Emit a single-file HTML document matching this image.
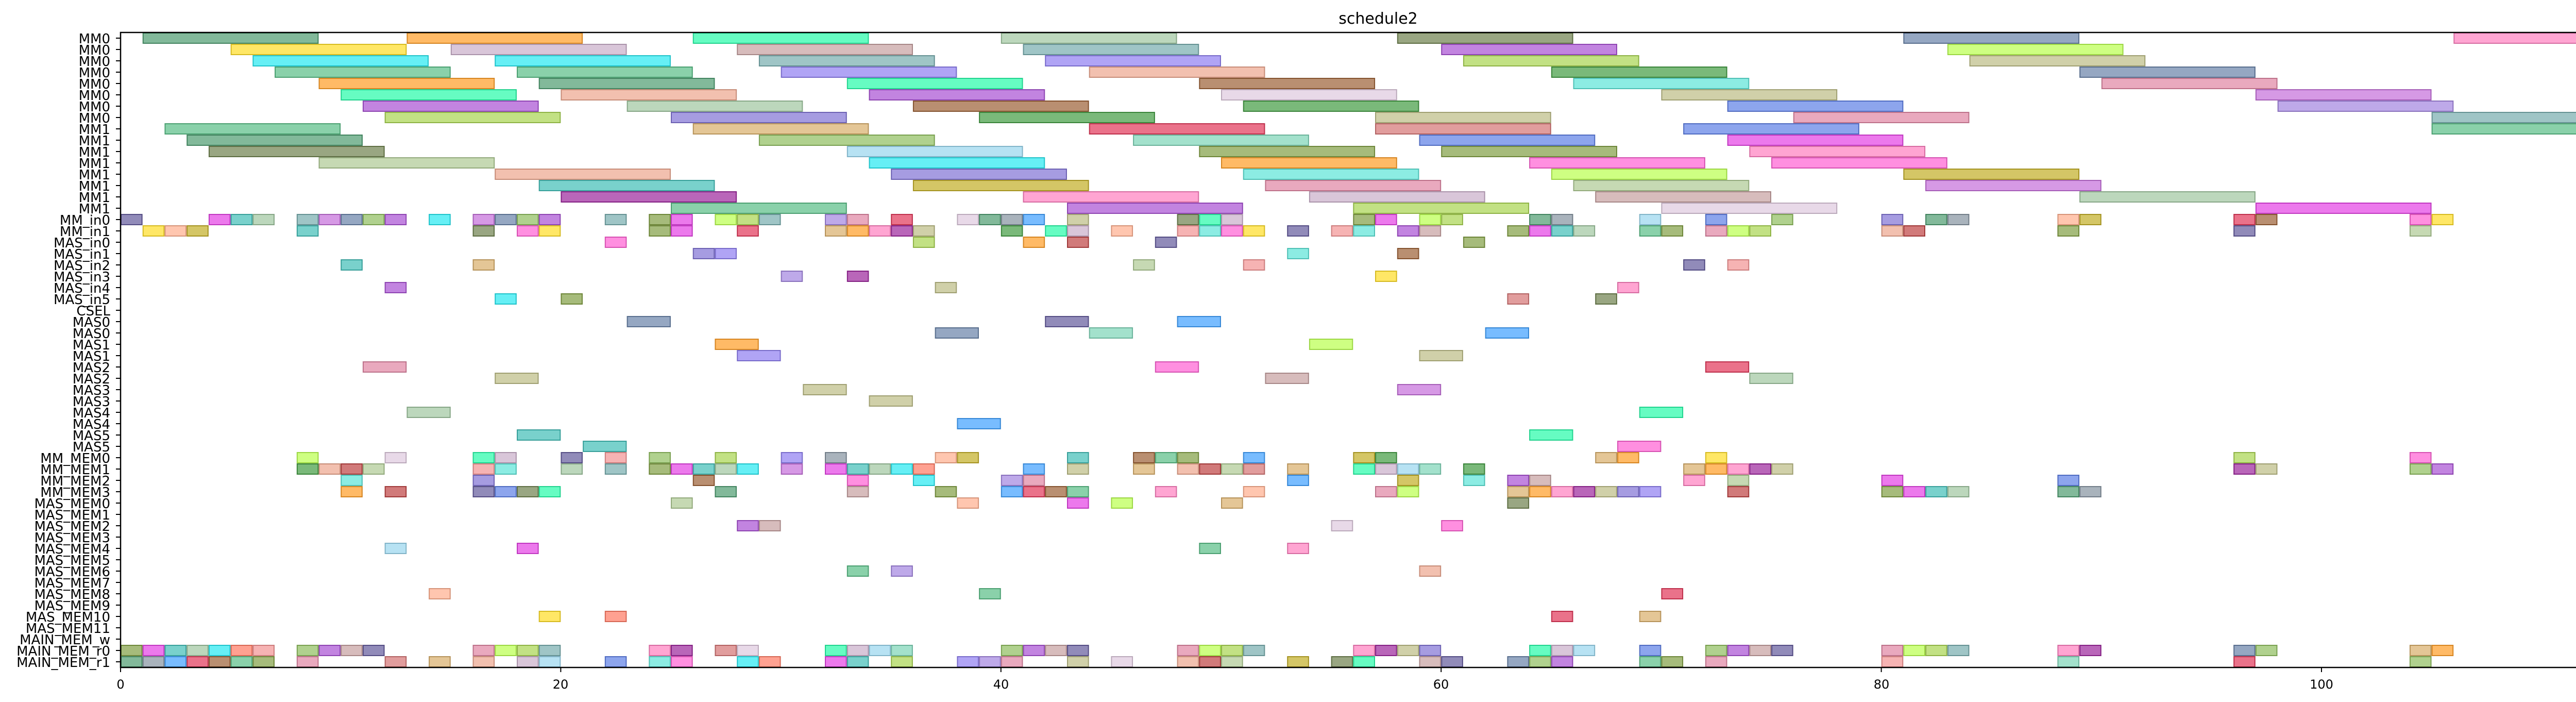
<!DOCTYPE html>
<html><head><meta charset="utf-8"><style>
html,body{margin:0;padding:0;background:#fff;}
svg{display:block;}
text{font-family:"DejaVu Sans","Liberation Sans",sans-serif;fill:#000;}
</style></head><body>
<svg id="s" width="5136" height="1362" xmlns="http://www.w3.org/2000/svg">
<rect width="5136" height="1362" fill="#fff"/>
<g id="bars"></g>
<rect x="234" y="63" width="4884" height="1232" fill="none" stroke="#000" stroke-width="2.5"/>
<text x="2675" y="46" font-size="30" text-anchor="middle">schedule2</text>
<g id="yl" font-size="26" text-anchor="end">
<text x="214" y="84">MM0</text><text x="214" y="106">MM0</text><text x="214" y="128">MM0</text><text x="214" y="150">MM0</text><text x="214" y="172">MM0</text><text x="214" y="194">MM0</text><text x="214" y="216">MM0</text><text x="214" y="238">MM0</text>
<text x="214" y="260">MM1</text><text x="214" y="282">MM1</text><text x="214" y="304">MM1</text><text x="214" y="326">MM1</text><text x="214" y="348">MM1</text><text x="214" y="370">MM1</text><text x="214" y="392">MM1</text><text x="214" y="414">MM1</text>
<text x="214" y="436">MM_in0</text><text x="214" y="458">MM_in1</text>
<text x="214" y="480">MAS_in0</text><text x="214" y="502">MAS_in1</text><text x="214" y="524">MAS_in2</text><text x="214" y="546">MAS_in3</text><text x="214" y="568">MAS_in4</text><text x="214" y="590">MAS_in5</text>
<text x="214" y="612">CSEL</text>
<text x="214" y="634">MAS0</text><text x="214" y="656">MAS0</text><text x="214" y="678">MAS1</text><text x="214" y="700">MAS1</text><text x="214" y="722">MAS2</text><text x="214" y="744">MAS2</text><text x="214" y="766">MAS3</text><text x="214" y="788">MAS3</text><text x="214" y="810">MAS4</text><text x="214" y="832">MAS4</text><text x="214" y="854">MAS5</text><text x="214" y="876">MAS5</text>
<text x="214" y="898">MM_MEM0</text><text x="214" y="920">MM_MEM1</text><text x="214" y="942">MM_MEM2</text><text x="214" y="964">MM_MEM3</text>
<text x="214" y="986">MAS_MEM0</text><text x="214" y="1008">MAS_MEM1</text><text x="214" y="1030">MAS_MEM2</text><text x="214" y="1052">MAS_MEM3</text><text x="214" y="1074">MAS_MEM4</text><text x="214" y="1096">MAS_MEM5</text><text x="214" y="1118">MAS_MEM6</text><text x="214" y="1140">MAS_MEM7</text><text x="214" y="1162">MAS_MEM8</text><text x="214" y="1184">MAS_MEM9</text><text x="214" y="1206">MAS_MEM10</text><text x="214" y="1228">MAS_MEM11</text>
<text x="214" y="1250">MAIN_MEM_w</text><text x="214" y="1272">MAIN_MEM_r0</text><text x="214" y="1294">MAIN_MEM_r1</text>
</g>
<g id="xl" font-size="24" text-anchor="middle">
<text x="234" y="1336">0</text><text x="1088" y="1336">20</text><text x="1943" y="1336">40</text><text x="2797" y="1336">60</text><text x="3652" y="1336">80</text><text x="4506" y="1336">100</text>
</g>
<g id="ticks" stroke="#000" stroke-width="2"></g>
</svg>
<script>
var U=42.72,X0=234,Y0=63,H=22;
var L8=[
[0,1,13,26,40,58,81,106],[1,5,15,28,41,60,83],[2,6,17,29,42,61,84],[3,7,18,30,44,65,89],
[4,9,19,33,49,66,90],[5,10,20,34,50,70,97],[6,11,23,36,51,73,98],[7,12,25,39,57,76,105],
[8,2,26,44,57,71,105],[9,3,29,46,59,73],[10,4,33,49,60,74],[11,9,34,50,64,75],
[12,17,35,51,65,81],[13,19,36,52,66,82],[14,20,41,54,67,89],[15,25,43,56,70,97]];
var L1={
16:[0,4,5,6,8,9,10,11,12,14,16,17,18,19,22,24,25,27,28,29,32,33,35,38,39,40,41,43,48,49,50,56,57,59,60,64,65,69,72,75,80,82,83,88,89,96,97,104,105],
17:[1,2,3,8,16,18,19,24,25,28,32,33,34,35,36,40,42,43,45,48,49,50,51,53,55,56,58,59,63,64,65,66,69,70,72,73,74,80,81,88,96,104],
18:[22,36,41,43,47,61],19:[26,27,53,58],20:[10,16,46,51,71,73],21:[30,33,57],22:[12,37,68],23:[17,20,63,67],
37:[8,12,16,17,20,22,24,27,30,32,37,38,43,46,47,48,51,56,57,67,68,72,96,104],
38:[8,9,10,11,16,17,20,22,24,25,26,27,28,30,32,33,34,35,36,41,43,46,48,49,50,51,53,56,57,58,59,61,71,72,73,74,75,96,97,104,105],
39:[10,16,26,33,36,40,41,53,58,61,63,64,71,73,80,88],
40:[10,12,16,17,18,19,27,33,37,40,41,42,43,47,51,57,58,63,64,65,66,67,68,69,73,80,81,82,83,88,89],
41:[25,38,43,45,50,63],43:[28,29,55,60],45:[12,18,49,53],47:[33,35,59],49:[14,39,70],51:[19,22,65,69],
54:[0,1,2,3,4,5,6,8,9,10,11,16,17,18,19,24,25,27,28,32,33,34,35,40,41,42,43,48,49,50,51,56,57,58,59,64,65,66,69,72,73,74,75,80,81,82,83,88,89,96,97,104,105],
55:[0,1,2,3,4,5,6,8,12,14,16,18,19,22,24,25,28,29,32,33,35,38,39,40,43,45,48,49,50,53,55,56,59,60,63,64,65,69,70,72,80,88,96,104]};
var L2={25:[23,42,48],26:[37,44,62],27:[27,54],28:[28,59],29:[11,47,72],30:[17,52,74],31:[31,58],32:[34],33:[13,69],34:[38],35:[18,64],36:[21,68]};
var P=["#7b68ee","#6b8e23","#4f6d9a","#40e0d0","#00fa9a","#b22222","#8b008b","#dc143c","#9acd32","#00e5ee","#483d8b","#b8a000","#d2a050","#2e8b57","#9370db","#e020e0","#7cb342","#ff44cc","#c0a0c0","#a0c080","#b0b070","#8b4513","#5f9ea0","#ff6347","#4169e1","#228b22","#ff8c00","#708090","#db7093","#20b2aa","#9932cc","#ffd700","#87ceeb","#cd5c5c","#6a5acd","#3cb371","#ba55d3","#f08080","#556b2f","#e9967a","#ff69b4","#1e90ff","#adff2f","#8fbc8f","#bc8f8f","#ffa07a","#66cdaa","#d8bfd8"];
function hx(c){return [parseInt(c.substr(1,2),16),parseInt(c.substr(3,2),16),parseInt(c.substr(5,2),16)];}
var out=[],k=0;
function bar(r,s,len){
 var c=P[(r*7+s*13+k++)%P.length],v=hx(c);
 var f="rgba("+v[0]+","+v[1]+","+v[2]+",0.6)";
 var e="rgba("+Math.round(v[0]*.8)+","+Math.round(v[1]*.8)+","+Math.round(v[2]*.8)+",0.8)";
 var x=X0+s*U,w=len*U;
 if(x+w>5118)w=5118-x;
 out.push('<rect x="'+(x+1).toFixed(1)+'" y="'+(Y0+r*H+1)+'" width="'+(w-2).toFixed(1)+'" height="'+(H-2)+'" fill="'+f+'" stroke="'+e+'" stroke-width="2"/>');
}
L8.forEach(function(a){for(var i=1;i<a.length;i++)bar(a[0],a[i],8);});
for(var r in L1)L1[r].forEach(function(s){bar(+r,s,1);});
for(var r in L2)L2[r].forEach(function(s){bar(+r,s,2);});
document.getElementById("bars").innerHTML=out.join("");
var t=[];
for(var i=0;i<56;i++){var y=Y0+11+i*H;t.push('<line x1="225" y1="'+y+'" x2="234" y2="'+y+'"/>');}
[0,20,40,60,80,100].forEach(function(v){var x=X0+v*U;t.push('<line x1="'+x+'" y1="1295" x2="'+x+'" y2="1304"/>');});
document.getElementById("ticks").innerHTML=t.join("");
</script>
</body></html>
